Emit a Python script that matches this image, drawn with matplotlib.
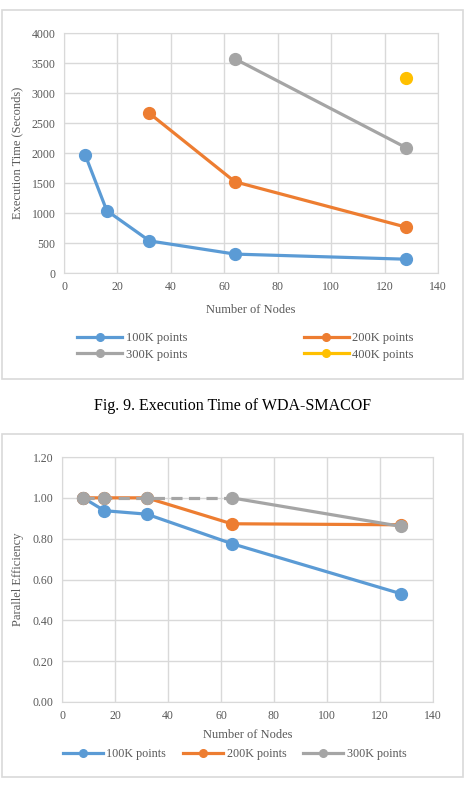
"""
Execution time and parallel efficiency of WDA-SMACOF
"""

import numpy as np
import matplotlib.pyplot as plt
from matplotlib.patches import Rectangle

# DATA
nodes_100k = [8, 16, 32, 64, 128]
time_100k = [1960, 1040, 535, 315, 230]
nodes_200k = [32, 64, 128]
time_200k = [2660, 1520, 765]
nodes_300k = [64, 128]
time_300k = [3570, 2090]
nodes_400k = [128]
time_400k = [3250]

eff_nodes = [8, 16, 32, 64, 128]
eff_100k = [1.00, 0.937, 0.92, 0.776, 0.53]
eff_200k = [1.00, 1.00, 1.00, 0.873, 0.868]
eff_300k = [1.00, 1.00, 1.00, 1.00, 0.86]

labels = ['100K points', '200K points', '300K points', '400K points']
colors = ['#5B9BD5', '#ED7D31', '#A5A5A5', '#FFC000']

plt.rcParams['font.family'] = ['Liberation Serif', 'DejaVu Serif']
tick_color = '#595959'
grid_color = '#D9D9D9'

fig = plt.figure(figsize=(4.70, 7.94), dpi=100)

# chart area borders
for y0, h in [(1 - 379 / 794, 369 / 794), (1 - 777 / 794, 343 / 794)]:
    fig.patches.append(Rectangle((2 / 470, y0), 461 / 470, h, transform=fig.transFigure,
                                 fill=False, edgecolor=grid_color, linewidth=1.2))


def style_axes(ax):
    ax.grid(True, color=grid_color, linewidth=1)
    ax.set_axisbelow(True)
    for s in ax.spines.values():
        s.set_color(grid_color)
    ax.tick_params(length=0, colors=tick_color, labelsize=8.5, pad=6)
    ax.set_xlim(0, 140)
    ax.set_xticks(np.arange(0, 141, 20))


lw = 2.3
ms = 8.5

# Execution time
ax1 = fig.add_axes([64 / 470, 1 - 273 / 794, 374 / 470, 240 / 794])
style_axes(ax1)
ax1.set_ylim(0, 4000)
ax1.set_yticks(np.arange(0, 4001, 500))
series = [(nodes_100k, time_100k), (nodes_200k, time_200k),
          (nodes_300k, time_300k), (nodes_400k, time_400k)]
handles = []
for (x, y), lab, c in zip(series, labels, colors):
    ax1.plot(x, y, color=c, lw=lw, marker='o', ms=ms, zorder=3)
    h, = plt.plot([], [], color=c, lw=lw, marker='o', ms=5.5, label=lab)
    handles.append(h)
ax1.set_xlabel('Number of Nodes', color=tick_color, fontsize=9, labelpad=8)
ax1.set_ylabel('Execution Time (Seconds)', color=tick_color, fontsize=9, labelpad=6)

# legend is filled column by column, so reorder to read row by row
fig.legend(handles=[handles[0], handles[2], handles[1], handles[3]],
           loc='upper left', bbox_to_anchor=(66 / 470, 1 - 321 / 794),
           ncol=2, frameon=False, fontsize=9, handlelength=3.6, columnspacing=9.3,
           labelspacing=0.35, handletextpad=0.3, labelcolor=tick_color)

fig.text(233 / 470, 1 - 406 / 794, 'Fig. 9. Execution Time of WDA-SMACOF',
         ha='center', va='center', fontsize=11.5)

# Parallel efficiency
ax2 = fig.add_axes([62 / 470, 1 - 702 / 794, 371 / 470, 245 / 794])
style_axes(ax2)
ax2.set_ylim(0, 1.2)
ax2.set_yticks(np.arange(0, 1.21, 0.2))
ax2.yaxis.set_major_formatter(plt.FormatStrFormatter('%.2f'))
ax2.plot(eff_nodes, eff_100k, color=colors[0], lw=lw, marker='o', ms=ms, zorder=3)
ax2.plot(eff_nodes, eff_200k, color=colors[1], lw=lw, marker='o', ms=ms, zorder=4)
ax2.plot(eff_nodes[:4], eff_300k[:4], color=colors[2], lw=lw, ls=(0, (3.5, 2)), zorder=5)
ax2.plot(eff_nodes[3:], eff_300k[3:], color=colors[2], lw=lw, zorder=5)
ax2.plot(eff_nodes, eff_300k, color=colors[2], ls='none', marker='o', ms=ms, zorder=6)
ax2.set_xlabel('Number of Nodes', color=tick_color, fontsize=9, labelpad=5)
ax2.set_ylabel('Parallel Efficiency', color=tick_color, fontsize=9, labelpad=6)

fig.legend(handles=handles[:3], loc='upper left', bbox_to_anchor=(52 / 470, 1 - 737 / 794),
           ncol=3, frameon=False, fontsize=8.7, handlelength=3.3, columnspacing=1.4,
           handletextpad=0.3, labelcolor=tick_color)

fig.savefig('out.png', dpi=100)
